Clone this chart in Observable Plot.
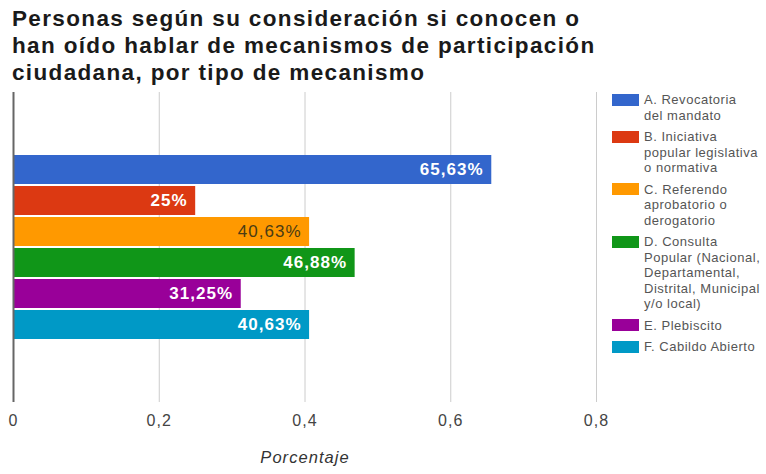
<!DOCTYPE html>
<html>
<head>
<meta charset="utf-8">
<script src="https://cdn.jsdelivr.net/npm/d3@7"></script>
<script src="https://cdn.jsdelivr.net/npm/@observablehq/plot@0.6"></script>
<style>
  html, body { margin: 0; padding: 0; background: #fff; }
  #chart { position: relative; width: 766px; height: 474px; overflow: hidden;
           font-family: "Liberation Sans", Arial, sans-serif; letter-spacing: 0.065em; }
  #title { position: absolute; left: 12px; top: 0; padding-top: 5px; width: 640px;
           font-size: 22.5px; line-height: 27px; font-weight: bold; color: #1a1a1a; letter-spacing: 0.06em; }
  #title div { white-space: nowrap; }
  #plot { position: absolute; left: 0; top: 92px; }
  #legend { position: absolute; left: 612px; top: 92px; width: 154px; }
  .row { position: relative; padding-left: 32px; margin-bottom: 6px;
         font-size: 13px; line-height: 15.5px; color: #555; letter-spacing: 0.04em; }
  .row .sw { position: absolute; left: 0; top: 1.5px; width: 27px; height: 12px; }
  .row div.l { white-space: nowrap; }
</style>
</head>
<body>
<div id="chart">
  <div id="title"></div>
  <div id="plot"></div>
  <div id="legend"></div>
</div>
<script>
const titleLines = [
  "Personas según su consideración si conocen o",
  "han oído hablar de mecanismos de participación",
  "ciudadana, por tipo de mecanismo"
];
const categories = [
  "A. Revocatoria del mandato",
  "B. Iniciativa popular legislativa o normativa",
  "C. Referendo aprobatorio o derogatorio",
  "D. Consulta Popular (Nacional, Departamental, Distrital, Municipal y/o local)",
  "E. Plebiscito",
  "F. Cabildo Abierto"
];
const legendLines = [
  ["A. Revocatoria", "del mandato"],
  ["B. Iniciativa", "popular legislativa", "o normativa"],
  ["C. Referendo", "aprobatorio o", "derogatorio"],
  ["D. Consulta", "Popular (Nacional,", "Departamental,", "Distrital, Municipal", "y/o local)"],
  ["E. Plebiscito"],
  ["F. Cabildo Abierto"]
];
const values = [0.6563, 0.25, 0.4063, 0.4688, 0.3125, 0.4063];
const colors = ["#3366cc", "#dc3912", "#ff9900", "#109618", "#990099", "#0099c6"];
const xTicks = [0, 0.2, 0.4, 0.6, 0.8];
const xLabel = "Porcentaje";

const data = categories.map((c, i) => ({cat: c, value: values[i], color: colors[i]}));
const fmtPct = v => String(Math.round(v * 10000) / 100).replace(".", ",") + "%";
const fmtTick = v => String(v).replace(".", ",");
const isLight = c => d3.lab(c).l > 70;
const lightData = data.filter(d => isLight(d.color));
const darkData = data.filter(d => !isLight(d.color));

// Title
const t = document.getElementById("title");
titleLines.forEach(s => { const d = document.createElement("div"); d.textContent = s; t.appendChild(d); });

// Chart
const chart = Plot.plot({
  width: 766,
  height: 382,
  marginLeft: 13,
  marginRight: 170,
  marginTop: 0,
  marginBottom: 72,
  style: {fontFamily: '"Liberation Sans", Arial, sans-serif', background: "transparent", overflow: "visible"},
  x: {domain: [0, 0.8], label: null},
  y: {domain: categories, range: [62, 248], padding: 0, axis: null},
  color: {domain: categories, range: colors},
  marks: [
    Plot.ruleX(xTicks.slice(1), {stroke: "#cccccc", strokeWidth: 1}),
    Plot.barX(data, {x: "value", y: "cat", fill: "cat", insetTop: 1, insetBottom: 1}),
    Plot.ruleX([0], {stroke: "#666666", strokeWidth: 2}),
    Plot.text(darkData, {
      x: "value", y: "cat", text: d => fmtPct(d.value), dx: -8, textAnchor: "end",
      fill: "#ffffff", fontWeight: "bold", fontSize: 17
    }),
    Plot.text(lightData, {
      x: "value", y: "cat", text: d => fmtPct(d.value), dx: -8, textAnchor: "end",
      fill: "#4a3c14", fontSize: 17
    }),
    Plot.axisX({ticks: xTicks, tickFormat: fmtTick, tickSize: 0, tickPadding: 12, fontSize: 16, fill: "#444", label: null}),
    Plot.text([xLabel], {frameAnchor: "bottom", dy: 60, fontStyle: "italic", fontSize: 16.5, fill: "#333"})
  ]
});
document.getElementById("plot").appendChild(chart);

// Legend
const lg = document.getElementById("legend");
legendLines.forEach((lines, i) => {
  const row = document.createElement("div");
  row.className = "row";
  const sw = document.createElement("span");
  sw.className = "sw";
  sw.style.background = colors[i];
  row.appendChild(sw);
  lines.forEach(s => { const l = document.createElement("div"); l.className = "l"; l.textContent = s; row.appendChild(l); });
  lg.appendChild(row);
});
</script>
</body>
</html>
